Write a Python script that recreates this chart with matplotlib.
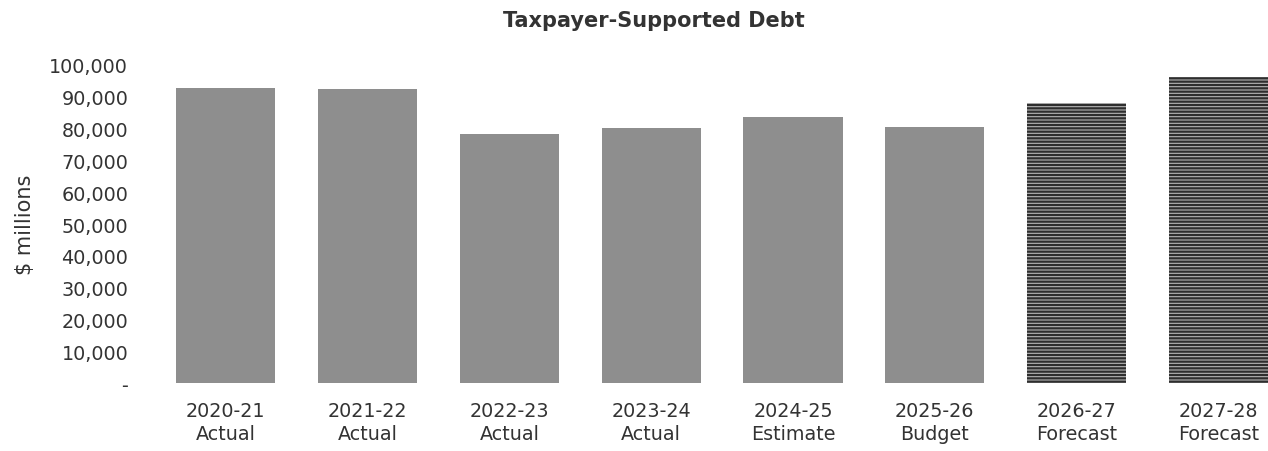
import matplotlib
matplotlib.use("Agg")
import matplotlib.pyplot as plt
from matplotlib.ticker import FuncFormatter

years = ["2020-21", "2021-22", "2022-23", "2023-24", "2024-25", "2025-26", "2026-27", "2027-28"]
kinds = ["Actual", "Actual", "Actual", "Actual", "Estimate", "Budget", "Forecast", "Forecast"]
debt = [92800, 92500, 78300, 80200, 83600, 80500, 88000, 96200]

plt.rcParams['font.family'] = ['DejaVu Sans']
plt.rcParams['hatch.linewidth'] = 1.6

fig = plt.figure(figsize=(12.68, 4.52), dpi=100)
ax = fig.add_axes([0.111, 0.15, 0.889, 0.704])

x = list(range(len(years)))
for i, v in enumerate(debt):
    if kinds[i] == "Forecast":
        ax.bar(i, v, width=0.7, color="#b5b5b5", edgecolor="#2e2e2e", hatch="-----", linewidth=0)
    else:
        ax.bar(i, v, width=0.7, color="#8e8e8e", linewidth=0)

ax.set_xlim(-0.6, 7.35)
ax.set_ylim(0, 100000)
ax.set_yticks(range(0, 100001, 10000))
ax.yaxis.set_major_formatter(FuncFormatter(lambda v, p: "-" if v == 0 else "{:,.0f}".format(v)))
ax.set_xticks(x)
ax.set_xticklabels([y + "\n" + k for y, k in zip(years, kinds)], fontsize=13.8, color="#333333", linespacing=1.25)
ax.tick_params(axis="y", labelsize=13.8, colors="#333333", length=0, pad=9)
ax.tick_params(axis="x", length=0, pad=13)
for s in ax.spines.values():
    s.set_visible(False)

ax.set_ylabel("$ millions", fontsize=15, color="#333333", labelpad=10)
fig.suptitle("Taxpayer-Supported Debt", fontsize=15, fontweight="bold", color="#333333", x=0.516, y=0.975)

fig.savefig("out.png", dpi=100)
